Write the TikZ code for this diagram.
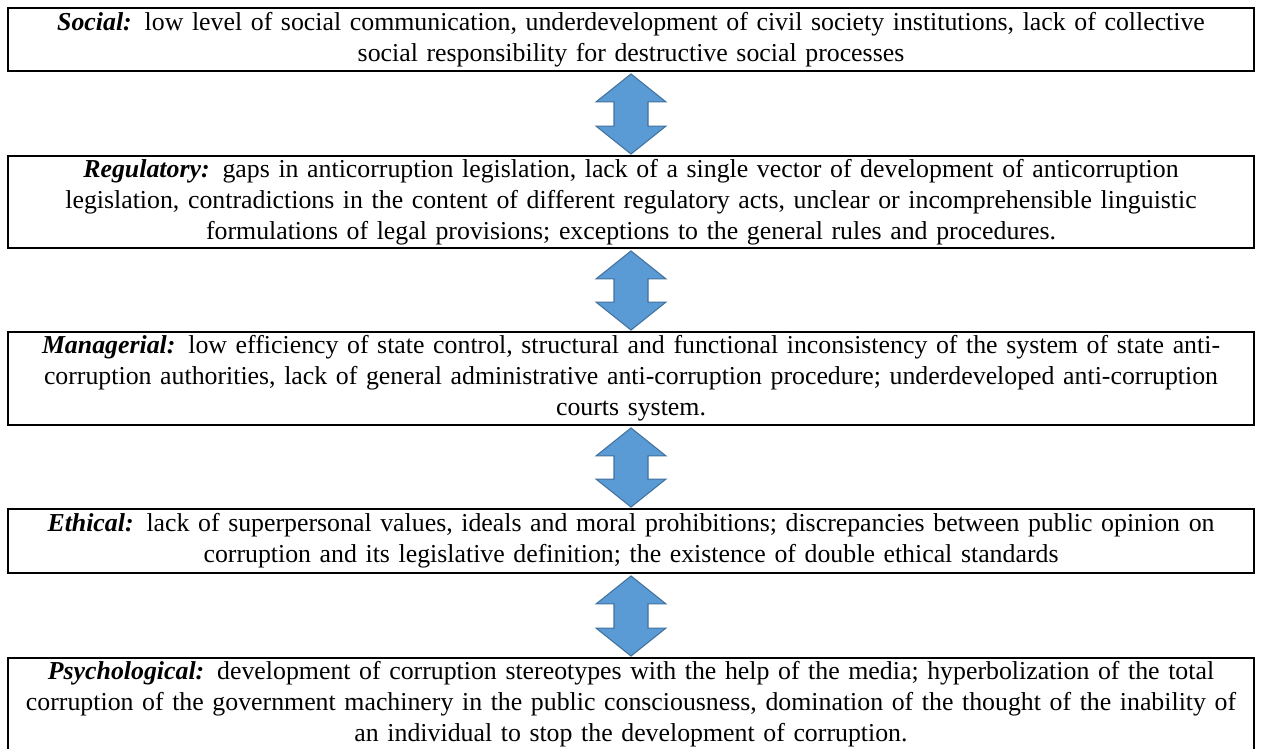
\documentclass[tikz,border=0pt]{standalone}
\usepackage{fontspec}
\setmainfont{Liberation Serif}
\usepackage{tikz}
\usetikzlibrary{calc}

\begin{document}
\begin{tikzpicture}[x=0.02cm,y=0.02cm,
	box/.style={draw,line width=1.1pt,inner xsep=2pt,inner ysep=0pt,
		text width=24.92cm-4pt,align=center,
		font=\fontsize{14.7}{17.6}\selectfont},
	twoway/.style={fill={rgb,255:red,91;green,155;blue,213},
		draw={rgb,255:red,65;green,113;blue,156},line width=0.6pt,line join=miter}]
\useasboundingbox (0,0) rectangle (1261,-748);
\node[box,minimum height=1.26cm] (soc) at (631,-39.5)
	{{\bfseries\itshape Social:} low level of social communication, underdevelopment of civil society institutions, lack of collective\\
	social responsibility for destructive social processes};
\node[box,minimum height=1.84cm] (reg) at (631,-202)
	{{\bfseries\itshape Regulatory:} gaps in anticorruption legislation, lack of a single vector of development of anticorruption\\
	legislation, contradictions in the content of different regulatory acts, unclear or incomprehensible linguistic\\
	formulations of legal provisions; exceptions to the general rules and procedures.};
\node[box,minimum height=1.86cm] (man) at (631,-378.5)
	{{\bfseries\itshape Managerial:} low efficiency of state control, structural and functional inconsistency of the system of state anti-\\
	corruption authorities, lack of general administrative anti-corruption procedure; underdeveloped anti-corruption\\
	courts system.};
\node[box,minimum height=1.28cm] (eth) at (631,-541)
	{{\bfseries\itshape Ethical:} lack of superpersonal values, ideals and moral prohibitions; discrepancies between public opinion on\\
	corruption and its legislative definition; the existence of double ethical standards};
\node[box,minimum height=1.86cm] (psy) at (631,-704.5)
	{{\bfseries\itshape Psychological:} development of corruption stereotypes with the help of the media; hyperbolization of the total\\
	corruption of the government machinery in the public consciousness, domination of the thought of the inability of\\
	an individual to stop the development of corruption.};
\foreach \a/\b in {soc/reg,reg/man,man/eth,eth/psy}{
	\path ($(\a.south)+(0,-2)$) coordinate (top) ($(\b.north)+(0,1)$) coordinate (bot);
	\draw[twoway] (top) -- ++(35,-28) -- ++(-18,0) -- ($(bot)+(17,28)$) -- ++(18,0) -- (bot)
		-- ++(-35,28) -- ++(18,0) -- ($(top)+(-17,-28)$) -- ++(-18,0) -- cycle;
}
\end{tikzpicture}
\end{document}
